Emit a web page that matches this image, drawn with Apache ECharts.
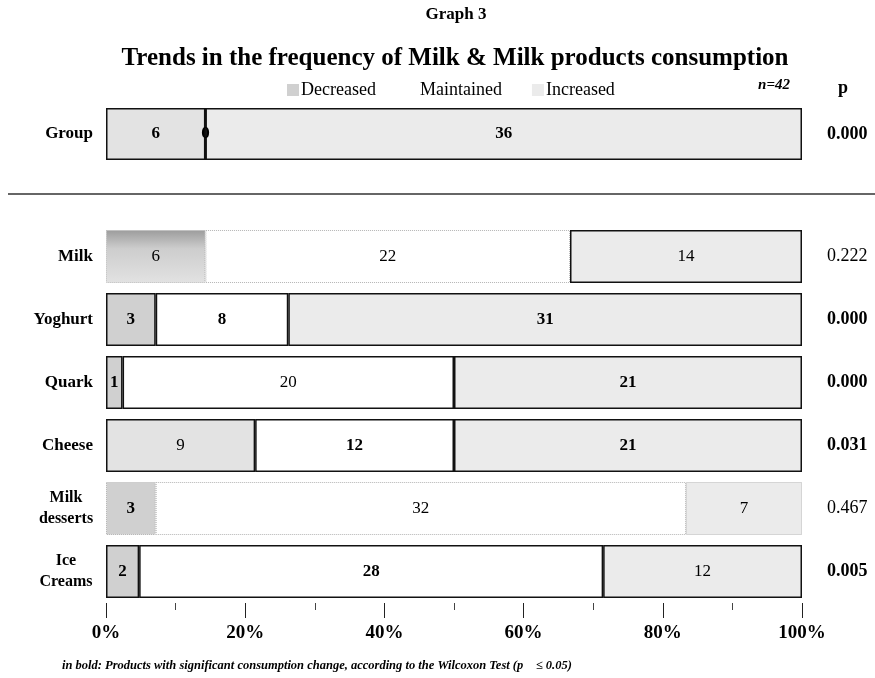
<!DOCTYPE html>
<html>
<head>
<meta charset="utf-8">
<script src="https://cdn.jsdelivr.net/npm/echarts@6/dist/echarts.min.js"></script>
<style>
  html, body { margin: 0; padding: 0; background: #ffffff; }
  #chart { width: 875px; height: 678px; }
</style>
</head>
<body>
<div id="chart"></div>
<script>
// Sample size and overall (Group) counts: decreased / maintained / increased
const n = 42;
const groupName = ['Group'];
const groupCounts = [6, 0, 36];
const groupBold = [true, true, true];
const groupP = ['0.000'];

// Per-product counts
const products = ['Milk', 'Yoghurt', 'Quark', 'Cheese', 'Milk desserts', 'Ice Creams'];
const decreased = [6, 3, 1, 9, 3, 2];
const maintained = [22, 8, 20, 12, 32, 28];
const increased = [14, 31, 21, 21, 7, 12];
const pValues = ['0.222', '0.000', '0.000', '0.031', '0.467', '0.005'];

// Which segment labels are printed in bold
const boldDecreased = [false, true, true, false, true, true];
const boldMaintained = [false, true, false, true, false, true];
const boldIncreased = [false, true, true, true, false, false];

const seriesNames = ['Decreased', 'Maintained', 'Increased'];
const xTickValues = [0, 20, 40, 60, 80, 100];

const FONT = '"Liberation Serif", "Times New Roman", serif';
const fills = { Decreased: '#d0d0d0', Maintained: '#ffffff', Increased: '#ebebeb' };
// lighter screen used for some "Decreased" blocks, darker band along the top of the Milk one
const lightDecreased = '#e3e3e3';
const decreasedTone = ['shaded', 'normal', 'normal', 'light', 'normal', 'normal'];

const significant = pValues.map(p => parseFloat(p) <= 0.05);
// outlined segments: significant rows, plus the boxed "Increased" part of Milk
const boxedDecreased = significant;
const boxedMaintained = significant;
const boxedIncreased = significant.map((s, i) => s || i === 0);

const solidBorder = { borderColor: '#111', borderWidth: 1.5 };
const faintBorder = { borderColor: '#b5b5b5', borderWidth: 1, borderType: 'dotted' };

function toneColor(tone) {
  if (tone === 'light') return lightDecreased;
  if (tone === 'shaded') {
    return new echarts.graphic.LinearGradient(0, 0, 0, 1, [
      { offset: 0, color: '#9c9c9c' },
      { offset: 0.35, color: '#cdcdcd' },
      { offset: 1, color: '#e2e2e2' }
    ]);
  }
  return fills.Decreased;
}

function segData(values, bold, boxed, tones) {
  return values.map((v, i) => {
    const style = Object.assign({}, boxed[i] ? solidBorder : faintBorder);
    if (tones) style.color = toneColor(tones[i]);
    return {
      value: v / n * 100,
      count: v,
      label: { fontWeight: bold[i] ? 'bold' : 'normal' },
      itemStyle: style
    };
  });
}

function barSeries(name, data, xi, yi, width) {
  return {
    type: 'bar',
    name: name,
    stack: 'share' + xi,
    xAxisIndex: xi,
    yAxisIndex: yi,
    barWidth: width,
    itemStyle: { color: fills[name] },
    label: {
      show: true,
      position: 'inside',
      color: '#000',
      fontFamily: FONT,
      fontSize: 17,
      formatter: p => String(p.data.count)
    },
    emphasis: { disabled: true },
    data: data
  };
}

function categoryLabel(value) {
  const words = value.split(' ');
  if (words.length > 1) {
    return words.map(w => '{c|' + w + '}').join('\n');
  }
  return value;
}

const chart = echarts.init(document.getElementById('chart'));

const option = {
  backgroundColor: '#ffffff',
  animation: false,
  legend: {
    data: seriesNames.map(s => ({
      name: s,
      itemStyle: { color: fills[s], borderWidth: 0 }
    })),
    left: 282,
    top: 76,
    icon: 'rect',
    itemWidth: 12,
    itemHeight: 12,
    itemGap: 30,
    selectedMode: false,
    textStyle: { fontFamily: FONT, fontSize: 18, color: '#000', padding: [0, 0, 0, -3] }
  },
  grid: [
    { left: 106, right: 73, top: 108, height: 52 },
    { left: 106, right: 73, top: 225, height: 378 }
  ],
  xAxis: [
    { gridIndex: 0, type: 'value', min: 0, max: 100, show: false },
    {
      gridIndex: 1, type: 'value', min: 0, max: 100, interval: 20,
      axisLine: { show: false },
      axisTick: { show: true, length: 15, lineStyle: { color: '#222', width: 1 } },
      minorTick: { show: true, splitNumber: 2, length: 7, lineStyle: { color: '#444', width: 1 } },
      splitLine: { show: false },
      axisLabel: {
        margin: 21,
        fontFamily: FONT, fontSize: 19, fontWeight: 'bold', color: '#000',
        formatter: v => (xTickValues.includes(v) ? v + '%' : '')
      }
    }
  ],
  yAxis: [
    {
      gridIndex: 0, type: 'category', data: groupName, inverse: true,
      axisLine: { show: false }, axisTick: { show: false },
      axisLabel: { margin: 13, fontFamily: FONT, fontSize: 17, fontWeight: 'bold', color: '#000' }
    },
    {
      gridIndex: 0, type: 'category', position: 'right', inverse: true,
      data: groupP.map(p => ({ value: p, textStyle: { fontWeight: parseFloat(p) <= 0.05 ? 'bold' : 'normal' } })),
      axisLine: { show: false }, axisTick: { show: false },
      axisLabel: { margin: 25, align: 'left', fontFamily: FONT, fontSize: 18, color: '#000' }
    },
    {
      gridIndex: 1, type: 'category', data: products, inverse: true,
      axisLine: { show: false }, axisTick: { show: false },
      axisLabel: {
        margin: 13, fontFamily: FONT, fontSize: 17, fontWeight: 'bold', color: '#000',
        formatter: categoryLabel,
        rich: {
          c: { width: 54, align: 'center', fontFamily: FONT, fontSize: 16, fontWeight: 'bold', color: '#000', lineHeight: 21 }
        }
      }
    },
    {
      gridIndex: 1, type: 'category', position: 'right', inverse: true,
      data: pValues.map((p, i) => ({ value: p, textStyle: { fontWeight: significant[i] ? 'bold' : 'normal' } })),
      axisLine: { show: false }, axisTick: { show: false },
      axisLabel: { margin: 25, align: 'left', fontFamily: FONT, fontSize: 18, color: '#000' }
    }
  ],
  series: [
    barSeries('Decreased', segData([groupCounts[0]], groupBold.slice(0, 1), [true], ['light']), 0, 0, 52),
    barSeries('Maintained', segData([groupCounts[1]], groupBold.slice(1, 2), [true]), 0, 0, 52),
    barSeries('Increased', segData([groupCounts[2]], groupBold.slice(2, 3), [true]), 0, 0, 52),
    barSeries('Decreased', segData(decreased, boldDecreased, boxedDecreased, decreasedTone), 1, 2, 53),
    barSeries('Maintained', segData(maintained, boldMaintained, boxedMaintained), 1, 2, 53),
    barSeries('Increased', segData(increased, boldIncreased, boxedIncreased), 1, 2, 53)
  ],
  graphic: [
    {
      type: 'text', x: 456, y: 15,
      style: { text: 'Graph 3', fontFamily: FONT, fontSize: 17, fontWeight: 'bold', fill: '#000',
               textAlign: 'center', textVerticalAlign: 'middle' }
    },
    {
      type: 'text', x: 455, y: 59,
      style: { text: 'Trends in the frequency of Milk & Milk products consumption', fontFamily: FONT,
               fontSize: 25, fontWeight: 'bold', fill: '#000', textAlign: 'center', textVerticalAlign: 'middle' }
    },
    {
      type: 'text', x: 774, y: 85,
      style: { text: 'n=42', fontFamily: FONT, fontSize: 15, fontWeight: 'bold', fontStyle: 'italic',
               fill: '#000', textAlign: 'center', textVerticalAlign: 'middle' }
    },
    {
      type: 'text', x: 843, y: 88,
      style: { text: 'p', fontFamily: FONT, fontSize: 18, fontWeight: 'bold', fill: '#000',
               textAlign: 'center', textVerticalAlign: 'middle' }
    },
    {
      type: 'line', shape: { x1: 8, y1: 194, x2: 875, y2: 194 },
      style: { stroke: '#333', lineWidth: 1.5 }
    },
    {
      type: 'text', x: 62, y: 666,
      style: { text: 'in bold: Products with significant consumption change, according to the Wilcoxon Test (p    \u2264 0.05)',
               fontFamily: FONT, fontSize: 12.5, fontWeight: 'bold', fontStyle: 'italic', fill: '#000',
               textAlign: 'left', textVerticalAlign: 'middle' }
    }
  ]
};

chart.setOption(option);
</script>
</body>
</html>
